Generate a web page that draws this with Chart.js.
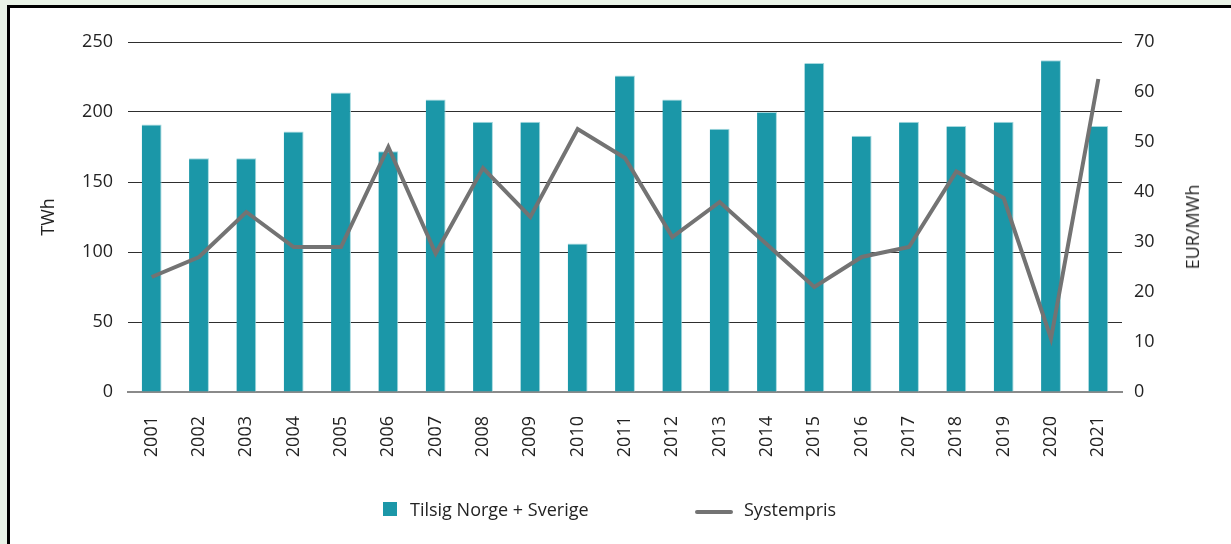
<!DOCTYPE html>
<html lang="no">
<head>
<meta charset="UTF-8">
<title>Tilsig og systempris</title>
<script src="https://cdn.jsdelivr.net/npm/chart.js"></script>
<style>
  html, body { margin: 0; padding: 0; }
  body { width: 1231px; height: 544px; background: #e9f3e7; position: relative; overflow: hidden; font-family: "Open Sans", sans-serif; }
  #panel { position: absolute; left: 7px; top: 5px; width: 1300px; height: 600px; border: 3px solid #000; background: #fff; }
  #wrap { position: absolute; left: 0; top: 0; width: 1231px; height: 544px; }
  .legend { position: absolute; top: 499px; font-size: 18px; color: #232323; line-height: 20px; }
  .box { position: absolute; width: 14px; height: 14px; background: #1b97a8; }
  .ln { position: absolute; width: 38px; height: 4px; border-radius: 2px; background: #737373; }
  #rtitle { position: absolute; left: 1192px; top: 227px; font-size: 18px; color: #232323; white-space: nowrap;
            transform: translate(-50%, -50%) rotate(-90deg); }
</style>
</head>
<body>
<div id="panel"></div>
<div id="wrap"><canvas id="chart"></canvas></div>
<div id="rtitle">EUR/MWh</div>
<div class="box" style="left:383px;top:502px"></div>
<div class="legend" style="left:410px">Tilsig Norge + Sverige</div>
<div class="ln" style="left:695px;top:510px"></div>
<div class="legend" style="left:744px">Systempris</div>

<script>
    const years = ["2001", "2002", "2003", "2004", "2005", "2006", "2007", "2008", "2009", "2010", "2011",
                   "2012", "2013", "2014", "2015", "2016", "2017", "2018", "2019", "2020", "2021"];
    // TWh
    const tilsig = [191, 167, 167, 186, 214, 172, 209, 193, 193, 106, 226, 209, 188, 200, 235, 183, 193, 190, 193, 237, 190];
    // EUR/MWh
    const systempris = [23, 27, 36, 29, 29, 49, 27.7, 44.8, 35, 52.6, 46.8, 31, 38, 29.5, 21, 27, 29, 44.1, 38.8, 10.7, 62.6];

    const textColor = "#232323";
    const font = { family: "'Open Sans', sans-serif", size: 18 };

    const ctx = document.getElementById("chart").getContext("2d");
    const chart = new Chart(ctx, {
        type: "bar",
        data: {
            labels: years,
            datasets: [
                {
                    type: "line",
                    label: "Systempris",
                    data: systempris,
                    yAxisID: "y1",
                    borderColor: "#737373",
                    borderWidth: 4,
                    pointRadius: 0,
                    tension: 0,
                    order: 0
                },
                {
                    label: "Tilsig Norge + Sverige",
                    data: tilsig,
                    yAxisID: "y",
                    backgroundColor: "#1b97a8",
                    borderColor: "#a6d9df",
                    borderWidth: { top: 1, right: 1, left: 0, bottom: 0 },
                    barPercentage: 0.42,
                    categoryPercentage: 1,
                    order: 1
                }
            ]
        },
        options: {
            responsive: true,
            maintainAspectRatio: false,
            animation: false,
            layout: { padding: { top: 42, bottom: 52, left: 0, right: 0 } },
            plugins: { legend: { display: false }, tooltip: { enabled: false } },
            scales: {
                x: {
                    grid: { display: false, drawTicks: false },
                    border: { display: true, color: "#8a8a8a", width: 2 },
                    ticks: { color: textColor, font: font, minRotation: 90, maxRotation: 90, padding: 24, autoSkip: false },
                    afterFit: s => { s.height = 100; }
                },
                y: {
                    position: "left",
                    min: 0, max: 250,
                    ticks: { stepSize: 50, color: textColor, font: font, padding: 15 },
                    grid: { color: "#2e2e2e", lineWidth: 1, drawTicks: false },
                    border: { display: false },
                    title: { display: true, text: "TWh", color: textColor, font: font, padding: { top: 38 } },
                    afterFit: s => { s.width = 128; }
                },
                y1: {
                    position: "right",
                    min: 0, max: 70,
                    ticks: { stepSize: 10, color: textColor, font: font, padding: 12 },
                    grid: { display: false, drawTicks: false },
                    border: { display: false },
                    afterFit: s => { s.width = 109; }
                }
            }
        }
    });
</script>
</body>
</html>
